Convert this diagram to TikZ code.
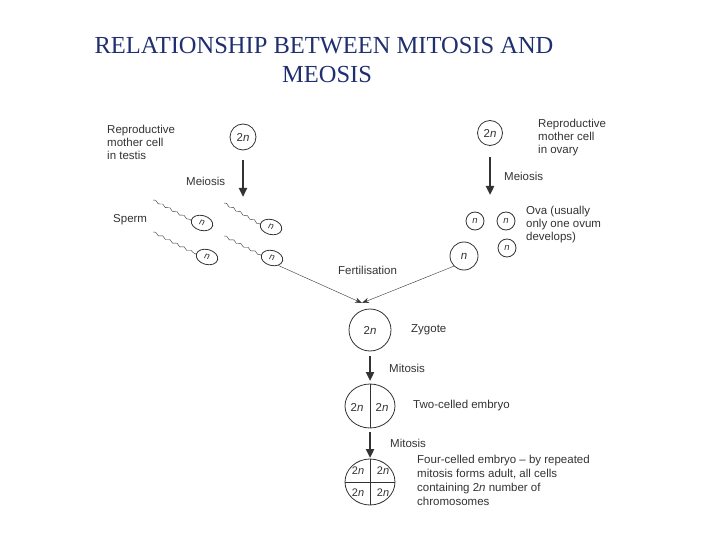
\documentclass[tikz,border=0pt]{standalone}
\usepackage{fontspec}
\setmainfont{Liberation Sans}
\newfontfamily\titlefont{Liberation Serif}
\usetikzlibrary{decorations.pathmorphing,arrows.meta,shapes.geometric}
\definecolor{titleblue}{HTML}{1F2F6F}
\definecolor{ink}{HTML}{333333}
\begin{document}
\begin{tikzpicture}[x=1pt,y=-1pt,
  lbl/.style={font=\fontsize{11.5}{13}\selectfont,text=ink,align=left,inner sep=0},
  cell/.style={circle,draw=ink,thick,font=\fontsize{11.5}{12}\selectfont,text=ink,inner sep=0},
  sp/.style={ellipse,draw=ink,thick,minimum width=22,minimum height=15,inner sep=0,rotate=-15,font=\fontsize{9.5}{10}\selectfont,text=ink},
  bigarrow/.style={draw=ink,line width=2.5pt,-{Triangle[length=9pt,width=8pt]}},
  thin/.style={draw=ink,-{Stealth[length=7pt]}},
  tail/.style={draw=ink,decorate,decoration={snake,amplitude=1,segment length=8}}]
\useasboundingbox (0,0) rectangle (720,540);
\fill[white] (0,0) rectangle (720,540);
\node[font=\titlefont\fontsize{24.5}{28}\selectfont,text=titleblue] (t1) at (324,46) {RELATIONSHIP BETWEEN MITOSIS AND};
\node[font=\titlefont\fontsize{24.5}{28}\selectfont,text=titleblue] (t2) at (327,75) {MEOSIS};
% left
\node[cell,minimum size=26] (lm) at (243,137) {2\textit{n}};
\coordinate (la1) at (243,160); \coordinate (la2) at (243,197);
\draw[bigarrow] (la1) -- (la2);
\node[lbl,anchor=west] (lmei) at (186,181) {Meiosis};
\node[lbl,anchor=north west] (ltxt) at (107,125) {Reproductive\\mother cell\\in testis};
\node[lbl,anchor=west] (sperm) at (113,220) {Sperm};
\node[sp] (s1) at (202,223) {\textit{n}};
\node[sp] (s2) at (271,227) {\textit{n}};
\node[sp] (s3) at (207,257) {\textit{n}};
\node[sp] (s4) at (272,258) {\textit{n}};
\coordinate (t1s) at (153,200); \coordinate (t2s) at (224,203);
\coordinate (t3s) at (153,232); \coordinate (t4s) at (224,236);
\draw[tail] (t1s) -- (s1.west);
\draw[tail] (t2s) -- (s2.west);
\draw[tail] (t3s) -- (s3.west);
\draw[tail] (t4s) -- (s4.west);
% right
\node[cell,minimum size=25] (rm) at (490,133) {2\textit{n}};
\coordinate (ra1) at (490,157); \coordinate (ra2) at (490,195);
\draw[bigarrow] (ra1) -- (ra2);
\node[lbl,anchor=west] (rmei) at (504,176) {Meiosis};
\node[lbl,anchor=north west] (rtxt) at (538,119) {Reproductive\\mother cell\\in ovary};
\node[cell,minimum size=18,font=\fontsize{9.5}{10}\selectfont] (o1) at (475,221) {\textit{n}};
\node[cell,minimum size=18,font=\fontsize{9.5}{10}\selectfont] (o2) at (506,221) {\textit{n}};
\node[cell,minimum size=18,font=\fontsize{9.5}{10}\selectfont] (o3) at (507,248) {\textit{n}};
\node[cell,minimum size=28] (o4) at (464,256) {\textit{n}};
\node[lbl,anchor=north west] (otxt) at (526,206) {Ova (usually\\only one ovum\\develops)};
% fertilisation
\coordinate (fz) at (362,303);
\draw[thin] (s4.south east) -- (fz);
\draw[thin] (o4.south west) -- (fz);
\node[lbl,anchor=west] (fert) at (338,270) {Fertilisation};
% zygote
\node[cell,minimum size=42] (zy) at (370,330) {2\textit{n}};
\node[lbl,anchor=west] (zyt) at (411,330) {Zygote};
\coordinate (m1a) at (370,356); \coordinate (m1b) at (370,381);
\draw[bigarrow] (m1a) -- (m1b);
\node[lbl,anchor=west] (mit1) at (389,368) {Mitosis};
% two-celled
\node[ellipse,draw=ink,thick,minimum width=50,minimum height=44,inner sep=0] (two) at (370,406) {};
\draw[ink,thick] (two.north) -- (two.south);
\node[font=\fontsize{11.5}{12}\selectfont,text=ink] (tw1) at (357,407) {2\textit{n}};
\node[font=\fontsize{11.5}{12}\selectfont,text=ink] (tw2) at (382,407) {2\textit{n}};
\node[lbl,anchor=west] (twt) at (413,406) {Two-celled embryo};
\coordinate (m2a) at (370,432); \coordinate (m2b) at (370,458);
\draw[bigarrow] (m2a) -- (m2b);
\node[lbl,anchor=west] (mit2) at (390,443) {Mitosis};
% four-celled
\node[ellipse,draw=ink,thick,minimum width=50,minimum height=46,inner sep=0] (four) at (370,482) {};
\draw[ink,thick] (four.north) -- (four.south);
\draw[ink,thick] (four.west) -- (four.east);
\node[font=\fontsize{11}{12}\selectfont,text=ink] (f1) at (358,471) {2\textit{n}};
\node[font=\fontsize{11}{12}\selectfont,text=ink] (f2) at (383,471) {2\textit{n}};
\node[font=\fontsize{11}{12}\selectfont,text=ink] (f3) at (358,493) {2\textit{n}};
\node[font=\fontsize{11}{12}\selectfont,text=ink] (f4) at (383,493) {2\textit{n}};
\node[lbl,anchor=north west,font=\fontsize{11.5}{14}\selectfont] (ft) at (417,455) {Four-celled embryo -- by repeated\\mitosis forms adult, all cells\\containing 2\textit{n} number of\\chromosomes};
\end{tikzpicture}
\end{document}
